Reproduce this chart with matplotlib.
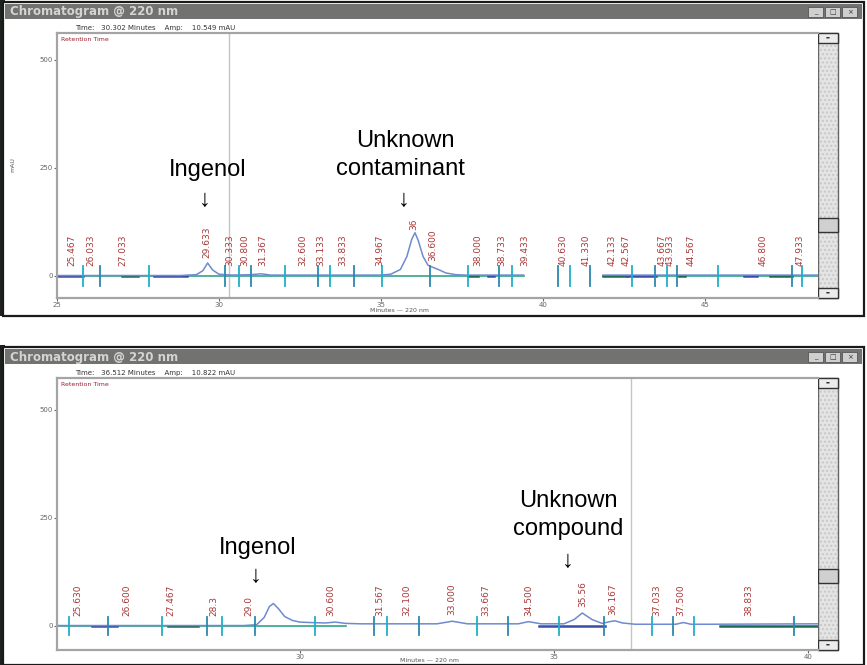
import numpy as np
import matplotlib.pyplot as plt
from matplotlib.patches import Rectangle

W, H = 867, 665
nan = np.nan

# ---- values (minutes / mAU) ----
top_time = [25.0, 28.8, 29.3, 29.5, 29.65, 29.8, 30.0, 30.4, 31.0, 31.3, 31.6, 33.0, 35.0,
            35.3, 35.6, 35.8, 35.95, 36.05, 36.15, 36.3, 36.45, 36.6, 36.8, 37.0, 37.3, 37.6,
            39.4, 39.45, 41.85, 48.5]
top_signal = [1, 1, 3, 12, 30, 14, 4, 2, 3, 5, 2, 2, 2,
              4, 15, 45, 85, 100, 82, 45, 25, 20, 14, 7, 3, 2,
              2, nan, 2, 2]
top_base = [(25.0, 39.4), (41.85, 48.5)]
top_dark = [(25.0, 25.8), (27.0, 27.5), (28.0, 29.0), (37.7, 38.0), (38.3, 38.5),
            (41.85, 42.6), (42.6, 43.5), (44.2, 44.4), (46.2, 46.6), (47.0, 47.7)]
top_ticks = [25.8, 26.33, 27.84, 30.2, 30.62, 30.99, 32.04, 33.06, 33.43, 34.17, 35.03, 36.5,
             37.69, 38.64, 39.04, 40.46, 40.83, 41.45, 42.75, 43.46, 43.83, 44.14, 45.4, 47.7, 48.0]
top_labels = ["25.467", "26.033", "27.033", "29.633", "30.333", "30.800", "31.367", "32.600",
              "33.133", "33.833", "34.967", "36", "36.600", "38.000", "38.733", "39.433",
              "40.630", "41.330", "42.133", "42.567", "43.667", "43.933", "44.567", "46.800", "47.933"]
top_cursor = 30.302

bot_time = [25.25, 28.9, 29.15, 29.3, 29.4, 29.48, 29.58, 29.7, 29.85, 30.0, 30.2, 30.5, 30.7,
            30.9, 31.2, 32.7, 33.0, 33.3, 34.3, 34.5, 34.75, 35.2, 35.4, 35.56, 35.75, 35.95,
            36.1, 36.2, 36.35, 36.6, 37.4, 37.55, 37.7, 38.0, 40.2]
bot_signal = [1, 1, 3, 20, 45, 52, 40, 22, 13, 9, 8, 7, 9,
              6, 5, 5, 11, 5, 5, 10, 5, 5, 15, 30, 15, 6,
              10, 12, 7, 4, 4, 8, 4, 4, 5]
bot_base = [(25.25, 30.9)]
bot_dark = [(25.9, 26.4), (27.4, 28.0), (34.7, 36.0), (38.27, 40.2)]
bot_ticks = [25.45, 26.22, 27.28, 28.17, 28.46, 29.11, 30.30, 31.46, 31.71, 32.34,
             33.48, 34.09, 35.10, 35.98, 36.93, 37.34, 37.76, 39.72]
bot_labels = ["25.630", "26.600", "27.467", "28.3", "29.0", "30.600", "31.567", "32.100",
              "33.000", "33.667", "34.500", "35.56", "36.167", "37.033", "37.500", "38.833"]
bot_cursor = 36.512


def px(x, y):
    return x / W, 1 - y / H


fig = plt.figure(figsize=(W / 100, H / 100), dpi=100)
bg = fig.add_axes([0, 0, 1, 1])
bg.set_xlim(0, W)
bg.set_ylim(H, 0)
bg.axis("off")


def window(y0, y1, thumb, ax_top, ax_bot, header):
    bg.add_patch(Rectangle((0, y0 - 2), 5, y1 - y0 + 2, color="#1c221c", lw=0))
    bg.add_patch(Rectangle((3, y0), 861, y1 - y0, fc="white", ec="#1a1a1a", lw=1.6))
    bg.add_patch(Rectangle((5, y0 + 2), 857, 15, color="#727270", lw=0))
    bg.text(10, y0 + 10, "Chromatogram @ 220 nm", color="#d4d4d4", fontsize=8.5,
            fontweight="bold", va="center")
    for bx, sym in zip([808, 825, 842], ["_", "□", "×"]):
        bg.add_patch(Rectangle((bx, y0 + 5), 15, 10, fc="#cfcfcf", ec="#555", lw=0.6))
        bg.text(bx + 7.5, y0 + 10, sym, fontsize=5, ha="center", va="center", color="#333")
    # scroll bar
    bg.add_patch(Rectangle((818, ax_top), 20, ax_bot - ax_top, fc="#e4e4e4",
                           ec="#c8c8c8", hatch="....", lw=0))
    bg.add_patch(Rectangle((818, ax_top), 20, ax_bot - ax_top, fc="none", ec="#666", lw=1))
    for by in [ax_top, ax_bot - 10]:
        bg.add_patch(Rectangle((818, by), 20, 10, fc="#ececec", ec="#333", lw=1))
    bg.text(828, ax_top + 5, "▬", fontsize=3, ha="center", va="center", color="#333")
    bg.text(828, ax_bot - 5, "▬", fontsize=3, ha="center", va="center", color="#333")
    bg.add_patch(Rectangle((818, thumb), 20, 14, fc="#d0d0d0", ec="#333", lw=1))
    bg.text(75, ax_top - 5, header, fontsize=5, color="#333", va="center")


window(2, 316, 218, 33, 298, "Time:   30.302 Minutes    Amp:    10.549 mAU")
window(347, 665, 569, 378, 650, "Time:   36.512 Minutes    Amp:    10.822 mAU")


def panel(rect, xlim, ylim, xticks, time, signal, base, dark, ticks, labels, cursor, tick_h):
    ax = fig.add_axes(rect)
    ax.set_xlim(*xlim)
    ax.set_ylim(*ylim)
    for s in ["top", "left", "bottom"]:
        ax.spines[s].set_color("#a4a4a4")
        ax.spines[s].set_linewidth(1.6)
    ax.spines["right"].set_visible(False)
    ax.set_yticks([0, 250, 500])
    ax.set_xticks(xticks)
    ax.tick_params(labelsize=5, colors="#666", length=2, pad=1)
    ax.axvline(cursor, color="#c4c4c4", lw=1)
    for a, b in base:
        ax.plot([a, b], [0, 0], color="#34a488", lw=1.2)
    for i, (a, b) in enumerate(dark):
        ax.plot([a, b], [0, 0], color=["#3a4ea8", "#1d6a50"][i % 2], lw=1.8)
    ax.plot(time, signal, color="#6f8ad0", lw=1.1)
    for i, t in enumerate(ticks):
        ax.plot([t, t], [-tick_h, tick_h], color=["#1fb0c8", "#2a88b0"][i % 2], lw=1.3)
    sig = np.nan_to_num(np.array(signal, float))
    for lab in labels:
        t = float(lab)
        y = max(np.interp(t, time, sig) + 14, 22)
        ax.text(t, y, lab, rotation=90, fontsize=6.5, color="#a83838", ha="center", va="bottom")
    ax.text(0.005, 0.985, "Retention Time", transform=ax.transAxes, fontsize=4.5,
            color="#9a2030", va="top")
    return ax


panel([57 / W, 1 - 298 / H, 761 / W, 265 / H], (25.0, 48.49), (-51, 562), [25, 30, 35, 40, 45],
      top_time, top_signal, top_base, top_dark, top_ticks, top_labels, top_cursor, 23)
panel([57 / W, 1 - 650 / H, 761 / W, 272 / H], (25.22, 40.20), (-55.6, 574), [30, 35, 40],
      bot_time, bot_signal, bot_base, bot_dark, bot_ticks, bot_labels, bot_cursor, 20)

fig.text(*px(400, 311), "Minutes — 220 nm", fontsize=4.5, color="#555", ha="center", va="center")
fig.text(*px(430, 661), "Minutes — 220 nm", fontsize=4.5, color="#555", ha="center", va="center")
fig.text(*px(13, 165), "mAU", fontsize=4.5, color="#555", rotation=90, ha="center", va="center")

fam = ["Liberation Sans", "DejaVu Sans"]
notes = [(208, 170, "Ingenol"), (205, 200, "↓"),
         (405, 141, "Unknown"), (400, 169, "contaminant"), (404, 200, "↓"),
         (258, 548, "Ingenol"), (256, 576, "↓"),
         (568, 501, "Unknown"), (568, 529, "compound"), (568, 561, "↓")]
for x, y, s in notes:
    fig.text(*px(x, y), s, fontsize=17, family=fam, ha="center", va="center", color="black")

fig.savefig("out.png", dpi=100, facecolor="white")
